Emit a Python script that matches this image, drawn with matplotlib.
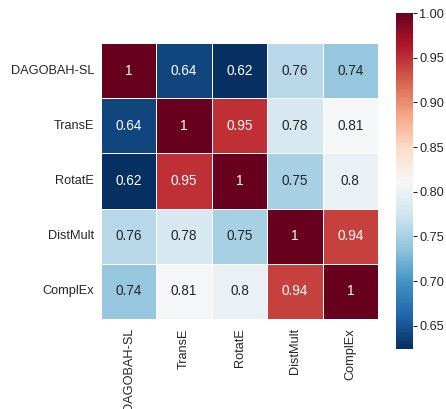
import numpy as np
import pandas as pd
import seaborn as sns
import matplotlib
matplotlib.use('Agg')
import matplotlib.pyplot as plt

# model names and pairwise similarity values
models = ['DAGOBAH-SL', 'TransE', 'RotatE', 'DistMult', 'ComplEx']
row_dagobah = [1.0, 0.64, 0.624, 0.76, 0.74]
row_transe = [0.64, 1.0, 0.95, 0.78, 0.81]
row_rotate = [0.624, 0.95, 1.0, 0.75, 0.80]
row_distmult = [0.76, 0.78, 0.75, 1.0, 0.94]
row_complex = [0.74, 0.81, 0.80, 0.94, 1.0]

df = pd.DataFrame([row_dagobah, row_transe, row_rotate, row_distmult, row_complex],
                  index=models, columns=models)

sns.set_theme(style='white')
plt.rcParams['font.family'] = ['Liberation Sans', 'DejaVu Sans']

fig = plt.figure(figsize=(4.46, 4.09), dpi=100)
ax = fig.add_axes([101 / 446, 1 - 319 / 409, 277 / 446, 276 / 409])
cax = fig.add_axes([395.5 / 446, 1 - 349 / 409, 17 / 446, 336 / 409])

sns.heatmap(df, ax=ax, cbar_ax=cax, cmap='RdBu_r', annot=True,
            linewidths=0.5, linecolor='white',
            annot_kws={'fontsize': 9.8})

ax.tick_params(axis='both', length=0, labelsize=9.2, colors='#262626')
ax.tick_params(axis='y', pad=5)
ax.tick_params(axis='x', pad=6.5)
plt.setp(ax.get_yticklabels(), rotation=0)
plt.setp(ax.get_xticklabels(), rotation=90)

cax.tick_params(axis='y', length=3, width=0.8, labelsize=9.2, colors='#262626', pad=2)
cax.set_yticks([0.65, 0.70, 0.75, 0.80, 0.85, 0.90, 0.95, 1.00])
cax.set_yticklabels(['0.65', '0.70', '0.75', '0.80', '0.85', '0.90', '0.95', '1.00'])

fig.savefig('out.png', dpi=100)
plt.close(fig)
